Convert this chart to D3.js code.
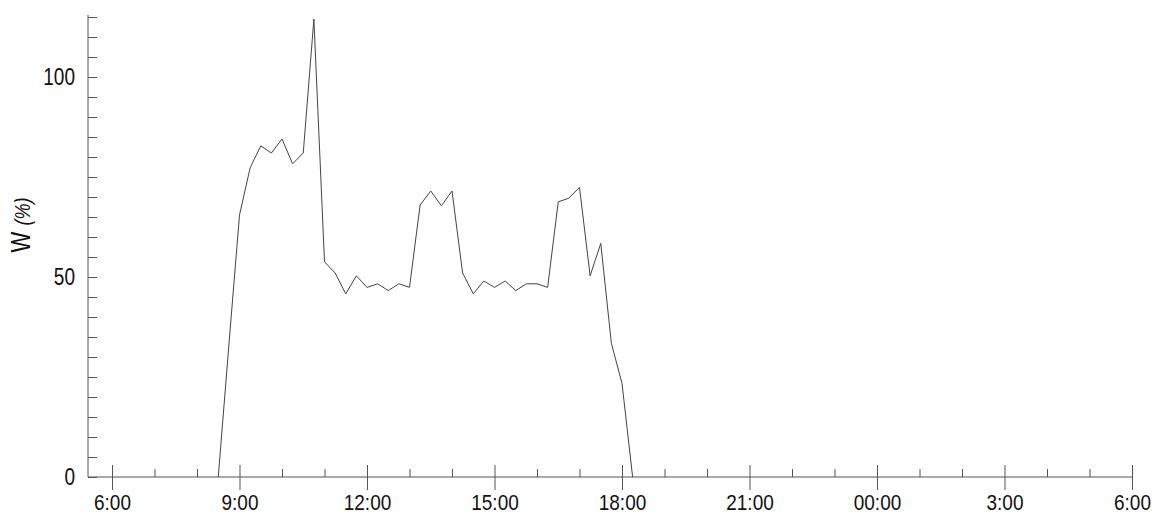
<!DOCTYPE html>
<html>
<head>
<meta charset="utf-8">
<script src="https://cdn.jsdelivr.net/npm/d3@7"></script>
<style>
    body { margin: 0; background: #fff; }
    svg { display: block; }
    text { font-family: "Liberation Sans", Arial, sans-serif; fill: #111; }
</style>
</head>
<body>
<div id="chart"></div>
<script>
// load profile, one value every 15 minutes (hours since midnight, 24+ = next day)
const times = [8.5, 8.75, 9, 9.25, 9.5, 9.75, 10, 10.25, 10.5, 10.75, 11, 11.25, 11.5, 11.75,
    12, 12.25, 12.5, 12.75, 13, 13.25, 13.5, 13.75, 14, 14.25, 14.5, 14.75, 15, 15.25, 15.5,
    15.75, 16, 16.25, 16.5, 16.75, 17, 17.25, 17.5, 17.75, 18, 18.25];
const values = [0, 33, 65.5, 77.3, 82.8, 81, 84.5, 78.3, 81, 114.5, 53.8, 51, 45.8, 50.3,
    47.4, 48.3, 46.6, 48.3, 47.4, 68, 71.5, 67.8, 71.5, 51, 45.8, 49, 47.4, 49, 46.6,
    48.3, 48.3, 47.4, 68.8, 69.7, 72.4, 50.3, 58.4, 33.4, 23.4, 0];

const majorHours = [6, 9, 12, 15, 18, 21, 24, 27, 30];
const hourLabels = ["6:00", "9:00", "12:00", "15:00", "18:00", "21:00", "00:00", "3:00", "6:00"];
const yMajor = [0, 25, 50, 75, 100];
const yLabels = {0: "0", 50: "50", 100: "100"};

const width = 1153, height = 513;
const plot = {left: 88, right: 1132, top: 15, bottom: 477};

const svg = d3.select("#chart").append("svg")
    .attr("width", width)
    .attr("height", height);

// 42.5 px per hour, 6:00 sits at x=112
const x = d3.scaleLinear()
    .domain([6 - 24 / 42.5, 30])
    .range([plot.left, plot.right]);

const y = d3.scaleLinear()
    .domain([0, (plot.bottom - plot.top) / 4])
    .range([plot.bottom, plot.top]);

const axisColor = "#555";

// minor hour ticks (pointing up)
const minorHours = d3.range(7, 30).filter(h => h % 3 != 0);
svg.append("g")
    .attr("transform", "translate(0," + plot.bottom + ")")
    .call(d3.axisTop(x).tickValues(minorHours).tickSize(8).tickSizeOuter(0).tickFormat(""))
    .call(g => g.select(".domain").remove())
    .selectAll("line").attr("stroke", axisColor);

// major hour ticks with labels
const xAxis = svg.append("g")
    .attr("transform", "translate(0," + plot.bottom + ")")
    .call(d3.axisBottom(x).tickValues(majorHours).tickSize(13).tickSizeOuter(0)
        .tickFormat((d, i) => hourLabels[i]));
xAxis.select(".domain").remove();
xAxis.selectAll(".tick line").attr("y1", -12).attr("stroke", axisColor);
xAxis.selectAll(".tick text")
    .attr("y", null).attr("dy", null)
    .attr("transform", "translate(0,33) scale(1,1.2)")
    .style("font-size", "19px");

// x baseline
svg.append("line")
    .attr("x1", plot.left).attr("x2", plot.right)
    .attr("y1", plot.bottom).attr("y2", plot.bottom)
    .attr("stroke", axisColor);

// y minor ticks every 5
const yMinor = d3.range(5, 116, 5).filter(v => v % 25 != 0);
svg.append("g")
    .attr("transform", "translate(" + plot.left + ",0)")
    .call(d3.axisRight(y).tickValues(yMinor).tickSize(9).tickSizeOuter(0).tickFormat(""))
    .call(g => g.select(".domain").remove())
    .selectAll("line").attr("stroke", axisColor);

// y major ticks
const yAxis = svg.append("g")
    .attr("transform", "translate(" + plot.left + ",0)")
    .call(d3.axisLeft(y).tickValues(yMajor).tickSize(8).tickSizeOuter(0)
        .tickFormat(d => yLabels[d] || ""));
yAxis.select(".domain").remove();
yAxis.selectAll(".tick line").attr("x2", 9).attr("stroke", axisColor);
yAxis.selectAll(".tick text")
    .attr("x", null).attr("dy", null)
    .attr("transform", "translate(-13,7) scale(1,1.22)")
    .style("font-size", "19px");

svg.append("line")
    .attr("x1", plot.left).attr("x2", plot.left)
    .attr("y1", plot.top).attr("y2", plot.bottom)
    .attr("stroke", axisColor);

// y axis title
const title = svg.append("text")
    .attr("transform", "translate(30,225) rotate(-90) scale(1,1.25)")
    .attr("text-anchor", "middle");
title.append("tspan").text("W ").style("font-size", "22px");
title.append("tspan").text("(%)").style("font-size", "18px").style("font-style", "italic");

// the line
const line = d3.line()
    .x((d, i) => x(times[i]))
    .y(d => y(d));

svg.append("path")
    .datum(values)
    .attr("d", line)
    .attr("fill", "none")
    .attr("stroke", "#444")
    .attr("stroke-width", 1);
</script>
</body>
</html>
